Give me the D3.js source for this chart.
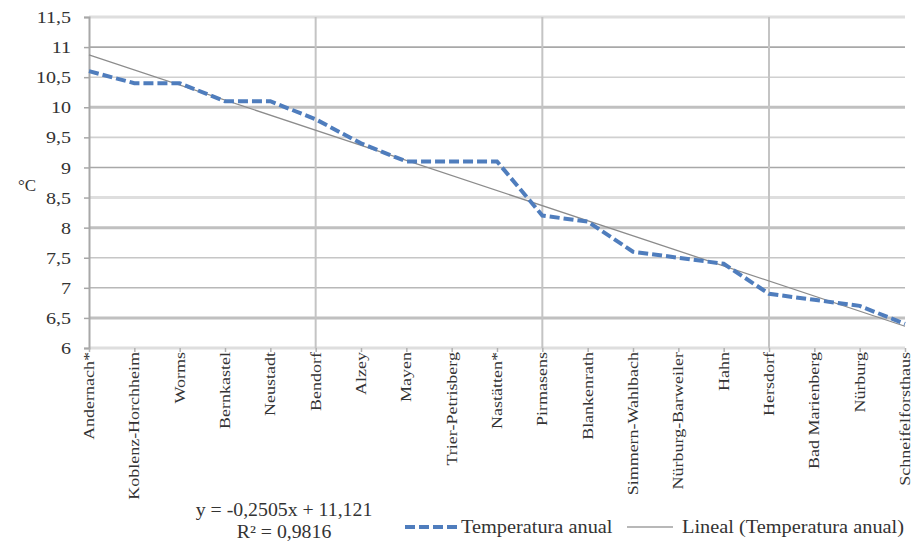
<!DOCTYPE html>
<html>
<head>
<meta charset="utf-8">
<script src="https://cdn.jsdelivr.net/npm/d3@7"></script>
<style>
  body { margin: 0; background: #fff; }
</style>
</head>
<body>
<div id="chart"></div>
<script>
// data
const stations = ["Andernach*", "Koblenz-Horchheim", "Worms", "Bernkastel", "Neustadt", "Bendorf",
  "Alzey", "Mayen", "Trier-Petrisberg", "Nastätten*", "Pirmasens", "Blankenrath", "Simmern-Wahlbach",
  "Nürburg-Barweiler", "Hahn", "Hersdorf", "Bad Marienberg", "Nürburg", "Schneifelforsthaus"];
const temps = [10.6, 10.4, 10.4, 10.1, 10.1, 9.8, 9.4, 9.1, 9.1, 9.1, 8.2, 8.1, 7.6, 7.5, 7.4, 6.9, 6.8, 6.7, 6.4];
const yTicks = [6, 6.5, 7, 7.5, 8, 8.5, 9, 9.5, 10, 10.5, 11, 11.5];
const slope = -0.2505, intercept = 11.121;
const seriesName = "Temperatura anual";
const trendName = "Lineal (Temperatura anual)";

const width = 914, height = 541;
const plotL = 89, plotR = 905, plotT = 17, plotB = 348;
const serif = "Liberation Serif";

const svg = d3.select("#chart").append("svg")
  .attr("width", width)
  .attr("height", height)
  .attr("font-family", serif);

const x = d3.scalePoint().domain(stations).range([plotL, plotR]);
const y = d3.scaleLinear().domain([6, 11.5]).range([plotB, plotT]);

// gridlines look uneven in the scan, mimic roughly
const gridStyle = {
  "11.5": ["#dedede", 3], "11": ["#a8a8a8", 1.6], "10.5": ["#d0d0d0", 1.6], "10": ["#c0c0c0", 3],
  "9.5": ["#d0d0d0", 1.6], "9": ["#a8a8a8", 1.6], "8.5": ["#dedede", 3], "8": ["#c0c0c0", 3],
  "7.5": ["#c6c6c6", 1.6], "7": ["#b8b8b8", 1.6], "6.5": ["#c0c0c0", 3], "6": ["#dedede", 3]
};

svg.append("g")
  .selectAll("line")
  .data(yTicks)
  .join("line")
  .attr("x1", plotL).attr("x2", plotR)
  .attr("y1", d => y(d)).attr("y2", d => y(d))
  .attr("stroke", d => gridStyle[d][0])
  .attr("stroke-width", d => gridStyle[d][1]);

// vertical gridlines every 5 stations
svg.append("g")
  .selectAll("line")
  .data(stations.filter((d, i) => i > 0 && i % 5 === 0))
  .join("line")
  .attr("x1", d => x(d)).attr("x2", d => x(d))
  .attr("y1", plotT).attr("y2", plotB)
  .attr("stroke", "#c4c4c4")
  .attr("stroke-width", 2);

// y axis
const yAxis = svg.append("g")
  .attr("transform", `translate(${plotL},0)`)
  .call(d3.axisLeft(y).tickValues(yTicks).tickSize(5).tickPadding(0)
    .tickFormat(d => String(d).replace(".", ",")))
  .attr("font-family", serif);
yAxis.select(".domain").attr("stroke", "#a8a8a8").attr("stroke-width", 2);
yAxis.selectAll(".tick line").attr("stroke", "#a8a8a8").attr("stroke-width", 1.5);
yAxis.selectAll(".tick text")
  .attr("x", 0).attr("dy", "0.33em")
  .attr("transform", "translate(-18,0) scale(1.18,1)")
  .attr("font-family", serif)
  .attr("font-size", 17)
  .attr("fill", "#333");

// x axis ticks
const xAxis = svg.append("g")
  .attr("transform", `translate(0,${plotB})`)
  .call(d3.axisBottom(x).tickSize(4).tickFormat(""));
xAxis.select(".domain").remove();
xAxis.selectAll(".tick line").attr("stroke", "#b0b0b0").attr("stroke-width", 1.5);

// x labels, rotated
svg.append("g")
  .selectAll("text")
  .data(stations)
  .join("text")
  .attr("transform", d => `translate(${x(d) + 5},${plotB + 4}) rotate(-90) scale(1.2,1)`)
  .attr("text-anchor", "end")
  .attr("font-family", serif)
  .attr("font-size", 15)
  .attr("fill", "#333")
  .text(d => d);

// trend line
const idx = d3.range(stations.length);
svg.append("line")
  .attr("x1", x(stations[0])).attr("y1", y(slope * 1 + intercept))
  .attr("x2", x(stations[stations.length - 1])).attr("y2", y(slope * stations.length + intercept))
  .attr("stroke", "#8c8c8c")
  .attr("stroke-width", 1.3);

// series line
const line = d3.line()
  .x(i => x(stations[i]))
  .y(i => y(temps[i]));

svg.append("path")
  .datum(idx)
  .attr("d", line)
  .attr("fill", "none")
  .attr("stroke", "#4f7dbd")
  .attr("stroke-width", 4)
  .attr("stroke-dasharray", "10,4");

// y title
svg.append("text")
  .attr("x", 18).attr("y", 191)
  .attr("font-family", serif)
  .attr("font-size", 17)
  .attr("fill", "#333")
  .text("°C");

// regression label
const eq = svg.append("g").attr("transform", "translate(284,0)");
eq.append("text").attr("y", 516).attr("text-anchor", "middle")
  .attr("transform", "scale(1.1,1)")
  .attr("font-family", serif).attr("font-size", 18).attr("fill", "#333")
  .text("y = -0,2505x + 11,121");
eq.append("text").attr("y", 538).attr("text-anchor", "middle")
  .attr("transform", "scale(1.1,1)")
  .attr("font-family", serif).attr("font-size", 18).attr("fill", "#333")
  .text("R² = 0,9816");

// legend
const lg = svg.append("g").attr("transform", "translate(0,527)");
lg.append("line").attr("x1", 405).attr("x2", 460).attr("y1", 0).attr("y2", 0)
  .attr("stroke", "#4f7dbd").attr("stroke-width", 4).attr("stroke-dasharray", "10,4");
lg.append("text").attr("transform", "translate(461,6) scale(1.13,1)")
  .attr("font-family", serif).attr("font-size", 18).attr("fill", "#333").text(seriesName);
lg.append("line").attr("x1", 627).attr("x2", 673).attr("y1", 0).attr("y2", 0)
  .attr("stroke", "#a0a0a0").attr("stroke-width", 1.3);
lg.append("text").attr("transform", "translate(682,6) scale(1.13,1)")
  .attr("font-family", serif).attr("font-size", 18).attr("fill", "#333").text(trendName);
</script>
</body>
</html>
